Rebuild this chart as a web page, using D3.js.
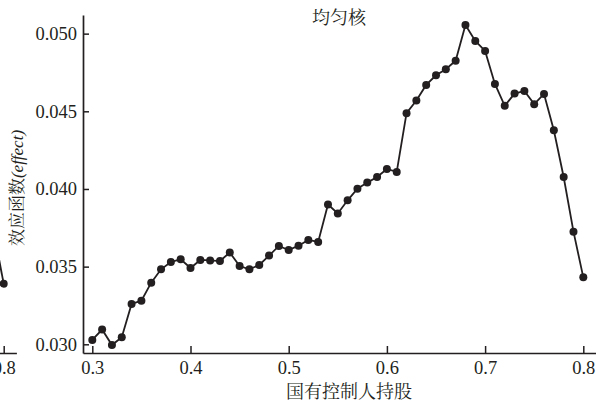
<!DOCTYPE html>
<html>
<head>
<meta charset="utf-8">
<script src="https://cdn.jsdelivr.net/npm/d3@7/dist/d3.min.js"></script>
<style>
  html, body { margin: 0; padding: 0; background: #fff; }
  svg { display: block; }
</style>
</head>
<body>
<svg id="chart" width="596" height="403"></svg>
<script>
// Share of state-owned controller (x) and estimated effect function (y), uniform kernel
const shares = [0.30, 0.31, 0.32, 0.33, 0.34, 0.35, 0.36, 0.37, 0.38, 0.39,
                0.40, 0.41, 0.42, 0.43, 0.44, 0.45, 0.46, 0.47, 0.48, 0.49,
                0.50, 0.51, 0.52, 0.53, 0.54, 0.55, 0.56, 0.57, 0.58, 0.59,
                0.60, 0.61, 0.62, 0.63, 0.64, 0.65, 0.66, 0.67, 0.68, 0.69,
                0.70, 0.71, 0.72, 0.73, 0.74, 0.75, 0.76, 0.77, 0.78, 0.79, 0.80];
const effects = [0.03028, 0.03095, 0.02995, 0.03045, 0.03260, 0.03281, 0.03397, 0.03483, 0.03530, 0.03547,
                 0.03491, 0.03543, 0.03540, 0.03536, 0.03591, 0.03504, 0.03483, 0.03511, 0.03571, 0.03633,
                 0.03607, 0.03635, 0.03672, 0.03659, 0.03900, 0.03842, 0.03927, 0.04002, 0.04041, 0.04077,
                 0.04129, 0.04110, 0.04488, 0.04569, 0.04670, 0.04732, 0.04771, 0.04826, 0.05056, 0.04953,
                 0.04889, 0.04676, 0.04535, 0.04614, 0.04631, 0.04546, 0.04612, 0.04378, 0.04077, 0.03725, 0.03431];

// Tail of the neighbouring panel on the left
const prevShares = [0.79, 0.80];
const prevEffects = [0.0372, 0.0339];

const xTicks = [0.3, 0.4, 0.5, 0.6, 0.7, 0.8];
const yTicks = [0.030, 0.035, 0.040, 0.045, 0.050];
const title = "均匀核";
const xTitle = "国有控制人持股";
const yTitle = "效应函数";
const yTitleEn = "(effect)";

const ink = "#231f20";
const serif = "'Liberation Serif'";
const cjk = "'Noto Serif CJK SC'";
const svg = d3.select("#chart");

const x = d3.scaleLinear().domain([0.29053, 0.81293]).range([83, 596]);
const y = d3.scaleLinear().domain([0.02944, 0.0512]).range([353, 15]);
// left neighbour uses the same spacing, shifted so that 0.8 sits near the left edge
const xPrev = d3.scaleLinear().domain([0.29053, 0.81293]).range([83 - 579.6, 596 - 579.6]);

function styleAxis(g) {
  g.attr("font-size", 18.5);
  g.select(".domain").attr("stroke", ink).attr("stroke-width", 1.7);
  g.selectAll(".tick line").attr("stroke", ink).attr("stroke-width", 1.5);
  g.selectAll(".tick text").attr("fill", ink).style("font-family", serif).style("font-size", "18.5px");
}

// neighbouring panel fragment
const prev = svg.append("g");
prev.append("g")
  .attr("transform", `translate(0,${y(y.domain()[0])})`)
  .call(d3.axisBottom(xPrev).tickValues([0.8]).tickFormat(d3.format(".1f"))
        .tickSizeInner(-7).tickSizeOuter(0).tickPadding(8))
  .call(styleAxis);
prev.append("path")
  .datum(prevShares.map((s, i) => [s, prevEffects[i]]))
  .attr("fill", "none").attr("stroke", ink).attr("stroke-width", 1.8)
  .attr("d", d3.line().x(d => xPrev(d[0])).y(d => y(d[1])));
prev.selectAll("circle")
  .data(prevShares.map((s, i) => [s, prevEffects[i]]))
  .join("circle")
  .attr("cx", d => xPrev(d[0])).attr("cy", d => y(d[1])).attr("r", 4).attr("fill", ink);

// axes
svg.append("g")
  .attr("transform", `translate(0,${y(y.domain()[0])})`)
  .call(d3.axisBottom(x).tickValues(xTicks).tickFormat(d3.format(".1f"))
        .tickSizeInner(-7).tickSizeOuter(0).tickPadding(8))
  .call(styleAxis);

svg.append("g")
  .attr("transform", `translate(${x(x.domain()[0])},0)`)
  .call(d3.axisLeft(y).tickValues(yTicks).tickFormat(d3.format(".3f"))
        .tickSizeInner(-6).tickSizeOuter(0).tickPadding(6))
  .call(styleAxis);

// series
const pts = shares.map((s, i) => [s, effects[i]]);
svg.append("path")
  .datum(pts)
  .attr("fill", "none").attr("stroke", ink).attr("stroke-width", 1.8)
  .attr("d", d3.line().x(d => x(d[0])).y(d => y(d[1])));
svg.append("g").selectAll("circle")
  .data(pts)
  .join("circle")
  .attr("cx", d => x(d[0])).attr("cy", d => y(d[1])).attr("r", 4).attr("fill", ink);

// titles
svg.append("text")
  .attr("x", 339).attr("y", 24)
  .attr("text-anchor", "middle")
  .style("font-family", cjk)
  .style("font-size", "18px").attr("fill", ink)
  .text(title);

svg.append("text")
  .attr("x", 349).attr("y", 398)
  .attr("text-anchor", "middle")
  .style("font-family", cjk)
  .style("font-size", "18px").attr("fill", ink)
  .text(xTitle);

const yt = svg.append("text")
  .attr("transform", "translate(23,188) rotate(-90)")
  .attr("text-anchor", "middle")
  .style("font-size", "17px").attr("fill", ink);
yt.append("tspan")
  .style("font-family", cjk)
  .text(yTitle);
yt.append("tspan")
  .style("font-family", serif)
  .style("font-style", "italic")
  .text(yTitleEn);
</script>
</body>
</html>
